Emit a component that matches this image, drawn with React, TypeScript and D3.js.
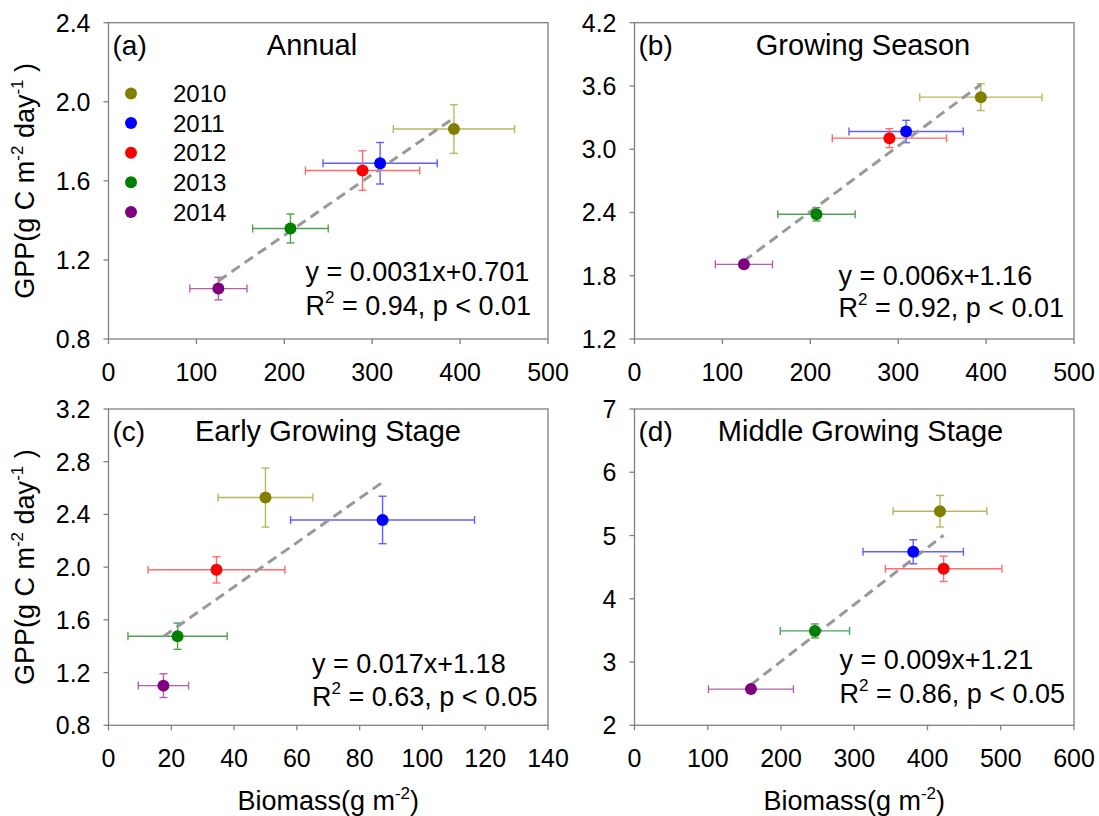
import * as d3 from 'd3';

// years and their colours
const years = ['2010', '2011', '2012', '2013', '2014'];
const dotColors = ['#808000', '#0000ff', '#ff0000', '#008000', '#800080'];
const barColors = ['#b8b860', '#6060ff', '#ff6a6a', '#4fa04f', '#b060b0'];

// (a) Annual
const annualBiomass = [393, 309, 289, 207, 125];
const annualBiomassErr = [69, 65, 65, 43, 32.5];
const annualGpp = [1.862, 1.689, 1.652, 1.359, 1.055];
const annualGppErr = [0.123, 0.105, 0.1, 0.073, 0.057];
const annualXTicks = [0, 100, 200, 300, 400, 500];
const annualYTicks = [0.8, 1.2, 1.6, 2.0, 2.4];

// (b) Growing season
const seasonBiomass = [394, 309, 290, 207, 124.5];
const seasonBiomassErr = [69.5, 65, 65, 44, 32.5];
const seasonGpp = [3.494, 3.168, 3.105, 2.383, 1.908];
const seasonGppErr = [0.127, 0.106, 0.09, 0.063, 0.03];
const seasonXTicks = [0, 100, 200, 300, 400, 500];
const seasonYTicks = [1.2, 1.8, 2.4, 3.0, 3.6, 4.2];

// (c) Early growing stage
const earlyBiomass = [50, 87.3, 34.4, 22, 17.5];
const earlyBiomassErr = [15.1, 29.3, 21.8, 15.8, 8];
const earlyGpp = [2.528, 2.358, 1.98, 1.476, 1.101];
const earlyGppErr = [0.224, 0.18, 0.1, 0.1, 0.09];
const earlyXTicks = [0, 20, 40, 60, 80, 100, 120, 140];
const earlyYTicks = [0.8, 1.2, 1.6, 2.0, 2.4, 2.8, 3.2];

// (d) Middle growing stage
const middleBiomass = [417, 380.5, 422, 246.3, 159];
const middleBiomassErr = [64, 68.5, 79.5, 47.3, 58];
const middleGpp = [5.384, 4.743, 4.474, 3.492, 2.572];
const middleGppErr = [0.25, 0.19, 0.2, 0.11, 0.04];
const middleXTicks = [0, 100, 200, 300, 400, 500, 600];
const middleYTicks = [2, 3, 4, 5, 6, 7];

const W = 439.5;
const H = 316.3;
const FONT = '"Liberation Sans", Arial, sans-serif';
const AXIS = '#808080';

const panels = [
  {
    tag: '(a)', title: 'Annual', left: 108.5, top: 22.7, titleX: 203.5,
    biomass: annualBiomass, biomassErr: annualBiomassErr, gpp: annualGpp, gppErr: annualGppErr,
    xTicks: annualXTicks, yTicks: annualYTicks, dec: 1,
    eq: 'y = 0.0031x+0.701', r2: ' = 0.94, p < 0.01', eqX: 197, eqY: [281, 315],
    yLabel: true, xLabel: false, legend: true,
  },
  {
    tag: '(b)', title: 'Growing Season', left: 634.5, top: 22.7, titleX: 228.5,
    biomass: seasonBiomass, biomassErr: seasonBiomassErr, gpp: seasonGpp, gppErr: seasonGppErr,
    xTicks: seasonXTicks, yTicks: seasonYTicks, dec: 1,
    eq: 'y = 0.006x+1.16', r2: ' = 0.92, p < 0.01', eqX: 204, eqY: [285, 316.7],
    yLabel: false, xLabel: false, legend: false,
  },
  {
    tag: '(c)', title: 'Early Growing Stage', left: 108.5, top: 409, titleX: 219.5,
    biomass: earlyBiomass, biomassErr: earlyBiomassErr, gpp: earlyGpp, gppErr: earlyGppErr,
    xTicks: earlyXTicks, yTicks: earlyYTicks, dec: 1,
    eq: 'y = 0.017x+1.18', r2: ' = 0.63, p < 0.05', eqX: 203.5, eqY: [672.7, 706],
    yLabel: true, xLabel: true, legend: false,
  },
  {
    tag: '(d)', title: 'Middle Growing Stage', left: 634.5, top: 409, titleX: 226,
    biomass: middleBiomass, biomassErr: middleBiomassErr, gpp: middleGpp, gppErr: middleGppErr,
    xTicks: middleXTicks, yTicks: middleYTicks, dec: 0,
    eq: 'y = 0.009x+1.21', r2: ' = 0.86, p < 0.05', eqX: 205, eqY: [669.3, 702.7],
    yLabel: false, xLabel: true, legend: false,
  },
];

function Panel({ p }: { p: any }) {
  const xs: number[] = p.xTicks;
  const ys: number[] = p.yTicks;
  const x = d3.scaleLinear().domain([xs[0], xs[xs.length - 1]]).range([p.left, p.left + W]);
  const y = d3.scaleLinear().domain([ys[0], ys[ys.length - 1]]).range([p.top + H, p.top]);
  const bottom = p.top + H;

  // least squares fit, drawn over the data range
  const mx = d3.mean(p.biomass as number[])!;
  const my = d3.mean(p.gpp as number[])!;
  const sxy = d3.sum(p.biomass.map((v: number, i: number) => (v - mx) * (p.gpp[i] - my)));
  const sxx = d3.sum(p.biomass.map((v: number) => (v - mx) ** 2));
  const slope = sxy / sxx;
  const icpt = my - slope * mx;
  const [x0, x1] = d3.extent(p.biomass as number[]) as [number, number];
  const fit = d3.line()([[x(x0), y(slope * x0 + icpt)], [x(x1), y(slope * x1 + icpt)]]);

  const cap = 4;
  return (
    <g>
      <rect x={p.left} y={p.top} width={W} height={H} fill="none" stroke={AXIS} strokeWidth={1.3} />
      {xs.map(t => (
        <g key={'x' + t}>
          <line x1={x(t)} x2={x(t)} y1={bottom} y2={bottom + 5} stroke={AXIS} strokeWidth={1.3} />
          <text x={x(t)} y={bottom + 41.5} textAnchor="middle" fontSize={25}>{t}</text>
        </g>
      ))}
      {ys.map(t => (
        <g key={'y' + t}>
          <line x1={p.left - 5} x2={p.left} y1={y(t)} y2={y(t)} stroke={AXIS} strokeWidth={1.3} />
          <text x={p.left - 18} y={y(t) + 9} textAnchor="end" fontSize={25}>{t.toFixed(p.dec)}</text>
        </g>
      ))}
      <text x={p.left + 4} y={p.top + 32.3} fontSize={28}>{p.tag}</text>
      <text x={p.left + p.titleX} y={p.top + 32.3} fontSize={29} textAnchor="middle">{p.title}</text>

      {p.biomass.map((b: number, i: number) => (
        <g key={'e' + i} stroke={barColors[i]} strokeWidth={1.4}>
          <line x1={x(b - p.biomassErr[i])} x2={x(b + p.biomassErr[i])} y1={y(p.gpp[i])} y2={y(p.gpp[i])} />
          <line x1={x(b - p.biomassErr[i])} x2={x(b - p.biomassErr[i])} y1={y(p.gpp[i]) - cap} y2={y(p.gpp[i]) + cap} />
          <line x1={x(b + p.biomassErr[i])} x2={x(b + p.biomassErr[i])} y1={y(p.gpp[i]) - cap} y2={y(p.gpp[i]) + cap} />
          <line x1={x(b)} x2={x(b)} y1={y(p.gpp[i] - p.gppErr[i])} y2={y(p.gpp[i] + p.gppErr[i])} />
          <line x1={x(b) - cap} x2={x(b) + cap} y1={y(p.gpp[i] - p.gppErr[i])} y2={y(p.gpp[i] - p.gppErr[i])} />
          <line x1={x(b) - cap} x2={x(b) + cap} y1={y(p.gpp[i] + p.gppErr[i])} y2={y(p.gpp[i] + p.gppErr[i])} />
        </g>
      ))}
      <path d={fit!} stroke="#999999" strokeWidth={3} strokeDasharray="10,6" fill="none" />
      {p.biomass.map((b: number, i: number) => (
        <circle key={'c' + i} cx={x(b)} cy={y(p.gpp[i])} r={6} fill={dotColors[i]} />
      ))}

      <text x={p.left + p.eqX} y={p.eqY[0]} fontSize={27}>{p.eq}</text>
      <text x={p.left + p.eqX} y={p.eqY[1]} fontSize={27}>
        R<tspan fontSize={17} dy={-12}>2</tspan><tspan dy={12}>{p.r2}</tspan>
      </text>

      {p.legend && years.map((yr, i) => (
        <g key={yr}>
          <circle cx={131} cy={93.5 + i * 29.6} r={6} fill={dotColors[i]} />
          <text x={173} y={93.5 + i * 29.6 + 8.6} fontSize={24}>{yr}</text>
        </g>
      ))}

      {p.yLabel && (
        <text transform={`translate(34,${p.top + H / 2}) rotate(-90)`} textAnchor="middle" fontSize={27}>
          GPP(g C m<tspan fontSize={17} dy={-11}>-2</tspan><tspan dy={11}> day</tspan>
          <tspan fontSize={17} dy={-11}>-1</tspan><tspan dy={11}> )</tspan>
        </text>
      )}
      {p.xLabel && (
        <text x={p.left + W / 2} y={810} textAnchor="middle" fontSize={27}>
          Biomass(g m<tspan fontSize={17} dy={-11}>-2</tspan><tspan dy={11}>)</tspan>
        </text>
      )}
    </g>
  );
}

export default function App() {
  return (
    <svg width={1099} height={816} style={{ position: 'absolute', left: 0, top: 0, background: '#fff' }}
      fontFamily={FONT} fill="#000">
      {panels.map(p => <Panel key={p.tag} p={p} />)}
    </svg>
  );
}
